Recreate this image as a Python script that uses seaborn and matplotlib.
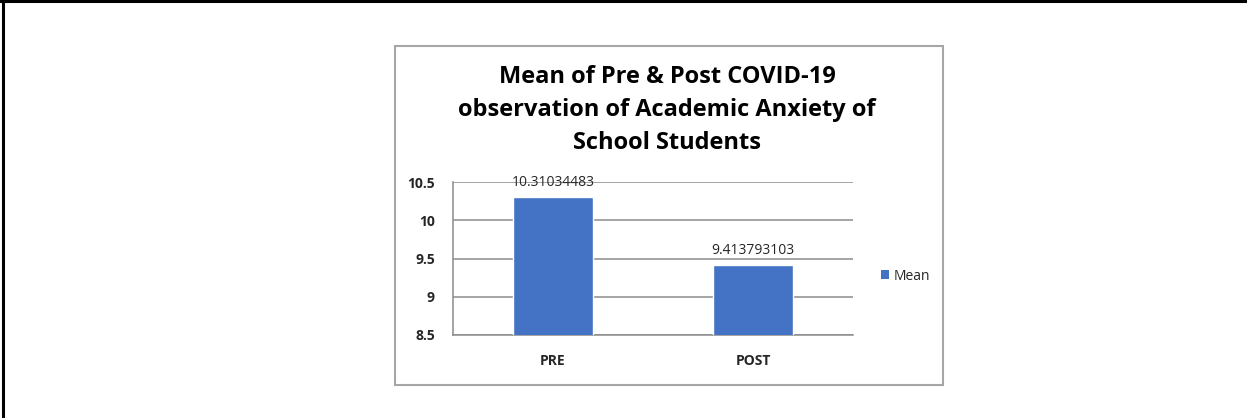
import numpy as np
import pandas as pd
import matplotlib
matplotlib.use("Agg")
import matplotlib.pyplot as plt
import seaborn as sns
from matplotlib.patches import Rectangle, Patch
from matplotlib.lines import Line2D
from matplotlib.ticker import FixedLocator, FuncFormatter

# ─── data ────────────────────────────────────────────────────────────────────
categories = ["PRE", "POST"]
mean_values = [10.31034483, 9.413793103]
value_labels = ["10.31034483", "9.413793103"]
y_ticks = [8.5, 9, 9.5, 10, 10.5]
series_name = "Mean"

df = pd.DataFrame({"phase": categories, "mean": mean_values})

BAR_BLUE = "#4472C4"
GRID_GRAY = "#8c8c8c"
TEXT_DARK = "#262626"

sns.set_style("white")
plt.rcParams["font.family"] = ["Open Sans", "DejaVu Sans"]

W, H = 1247, 418
fig = plt.figure(figsize=(W / 100, H / 100), dpi=100)

# plot area in pixel coords -> fraction
left, right, top, bottom = 453, 853, 182.3, 335
ax = fig.add_axes([left / W, 1 - bottom / H, (right - left) / W, (bottom - top) / H])

sns.barplot(data=df, x="phase", y="mean", color=BAR_BLUE, saturation=1,
            width=0.4, ax=ax, zorder=3)

ax.set_xlim(-0.5, 1.5)
ax.set_ylim(8.5, 10.5)
ax.set_xlabel("")
ax.set_ylabel("")

# horizontal gridlines
ax.yaxis.set_major_locator(FixedLocator(y_ticks))
ax.yaxis.set_major_formatter(FuncFormatter(lambda v, p: f"{v:g}"))
ax.grid(axis="y", color=GRID_GRAY, linewidth=1.1, zorder=0)
ax.set_axisbelow(True)

for side in ["top", "right"]:
    ax.spines[side].set_visible(False)
for side in ["left", "bottom"]:
    ax.spines[side].set_color(GRID_GRAY)
    ax.spines[side].set_linewidth(1.1)

ax.tick_params(axis="y", length=4, width=1.1, color=GRID_GRAY, pad=9,
               labelsize=10, labelcolor=TEXT_DARK)
for lbl in ax.get_yticklabels():
    lbl.set_fontweight("bold")

# category boundary ticks on x axis
ax.xaxis.set_minor_locator(FixedLocator([-0.5, 0.5, 1.5]))
ax.tick_params(axis="x", which="major", length=0, pad=14, labelsize=10,
               labelcolor=TEXT_DARK)
ax.tick_params(axis="x", which="minor", length=4, width=1.1, color=GRID_GRAY)
for lbl in ax.get_xticklabels():
    lbl.set_fontweight("bold")

# value labels above bars
for i, (v, txt) in enumerate(zip(mean_values, value_labels)):
    ax.annotate(txt, (i, v), xytext=(0, 5), textcoords="offset points",
                ha="center", va="bottom", fontsize=10, color=TEXT_DARK,
                annotation_clip=False, zorder=4)

# title
fig.text(667 / W, 1 - 110 / H,
         "Mean of Pre & Post COVID-19\nobservation of Academic Anxiety of\nSchool Students",
         ha="center", va="center", fontsize=17, fontweight="bold",
         color="black", linespacing=1.5)

# legend
leg = fig.legend(handles=[Patch(facecolor=BAR_BLUE, edgecolor="none", label=series_name)],
                 loc="center left", bbox_to_anchor=(874 / W, 1 - 276 / H),
                 frameon=False, fontsize=10, handlelength=0.6, handleheight=0.6,
                 handletextpad=0.3, borderpad=0)
for t in leg.get_texts():
    t.set_color(TEXT_DARK)

# chart box border
fig.patches.append(Rectangle((395 / W, 1 - 385 / H), (943 - 395) / W, (385 - 46) / H,
                             transform=fig.transFigure, fill=False,
                             edgecolor="#a6a6a6", linewidth=1.5))
# outer page border (top and left)
fig.lines.append(Line2D([0, 1], [1 - 1 / H, 1 - 1 / H], transform=fig.transFigure,
                        color="black", linewidth=2.2))
fig.lines.append(Line2D([2.5 / W, 2.5 / W], [0, 1], transform=fig.transFigure,
                        color="black", linewidth=2.2))

fig.savefig("out.png", dpi=100, facecolor="white")
